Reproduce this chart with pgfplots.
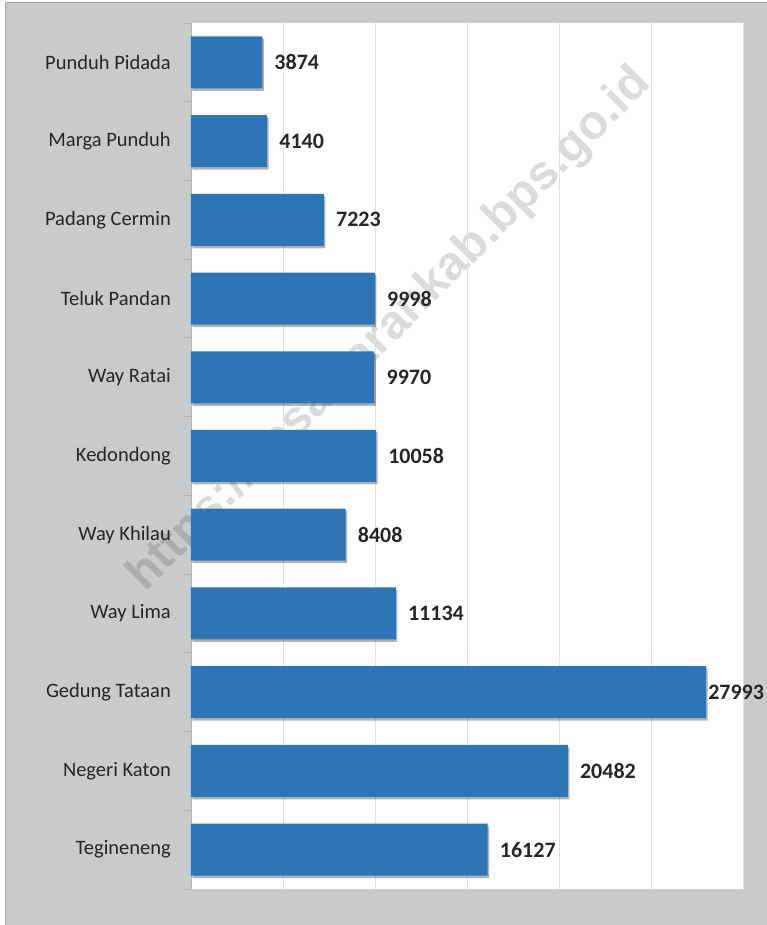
\documentclass[border=0pt]{standalone}
\usepackage{pgfplots}
\pgfplotsset{compat=1.18}
\usepackage{pgfplotstable}
\usepackage{fontspec}
\setmainfont{Carlito}
\newfontfamily\wmfont{Liberation Sans}
\usetikzlibrary{shadows}
\definecolor{barblue}{RGB}{46,117,182}
\definecolor{bggray}{RGB}{201,202,204}
\definecolor{framegray}{RGB}{160,160,162}
\definecolor{txt}{RGB}{38,38,38}
\pgfplotstableread{
y val gap
0 16127 12
1 20482 12
2 27993 2
3 11134 12
4 8408 12
5 10058 12
6 9970 12
7 9998 12
8 7223 12
9 4140 12
10 3874 12
}\datatab
\begin{document}
\begin{tikzpicture}[x=1pt,y=1pt]
\path[use as bounding box] (-191,-36) rectangle (576,889);
\fill[bggray] (-185,-36) rectangle (576,886);
\draw[framegray, line width=1pt] (-185,-36) -- (-185,886) -- (576,886);
\fill[white] (0,0) rectangle (552,866);
\node[rotate=45, font=\wmfont\bfseries\fontsize{48}{48}\selectfont, text=black, opacity=0.14] at (199,559) {https://pesawarankab.bps.go.id};
\begin{axis}[
  at={(0,0)}, anchor=south west,
  scale only axis, width=552pt, height=866pt,
  xmin=0, xmax=30000, ymin=-0.5, ymax=10.5,
  scaled x ticks=false,
  axis y line*=left, axis x line*=bottom,
  x axis line style={draw=none},
  y axis line style={draw=black!30, line width=0.8pt},
  xtick={0,5000,...,30000}, xticklabels={}, xtick style={draw=none},
  xmajorgrids, major grid style={draw=black!12, line width=0.8pt},
  ytick={0,...,10},
  yticklabels={Tegineneng,Negeri Katon,Gedung Tataan,Way Lima,Way Khilau,Kedondong,Way Ratai,Teluk Pandan,Padang Cermin,Marga Punduh,Punduh Pidada},
  major tick length=0pt,
  minor ytick={-0.5,0.5,...,10.5}, minor tick length=7pt,
  tick align=outside,
  minor tick style={draw=black!30, line width=0.8pt},
  yticklabel style={font=\fontsize{20.5}{22}\selectfont, text=txt, inner sep=0pt, xshift=-20pt, anchor=east},
  clip=false,
]
\addplot[xbar, bar width=52pt, fill=barblue, draw=none,
  drop shadow={shadow xshift=1.5pt, shadow yshift=-2.5pt, opacity=0.3, fill=black},
  nodes near coords, point meta=explicit symbolic,
  visualization depends on={\thisrow{gap} \as \gap},
  nodes near coords style={anchor=west, inner sep=0pt, xshift=\gap pt, font=\bfseries\fontsize{22}{24}\selectfont, text=txt, opacity=1}
] table[x=val, y=y, meta=val] {\datatab};
\end{axis}
\end{tikzpicture}
\end{document}
